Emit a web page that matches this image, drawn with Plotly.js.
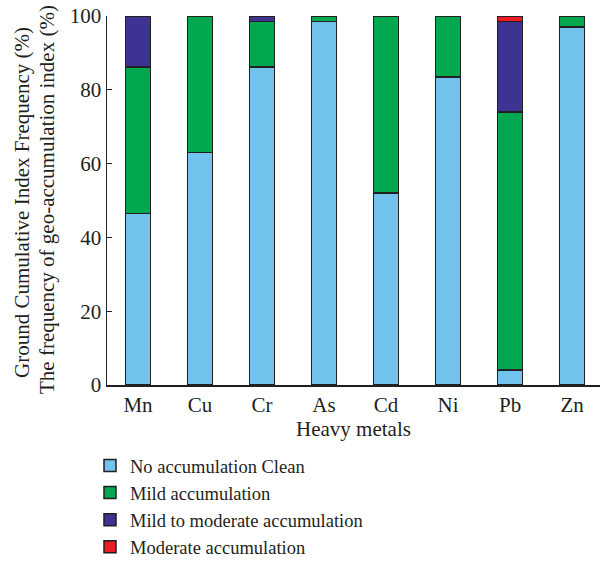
<!DOCTYPE html>
<html><head><meta charset="utf-8">
<script src="https://cdn.plot.ly/plotly-3.0.1.min.js"></script>
<style>html,body{margin:0;padding:0;background:#fff;}</style>
</head><body>
<div id="chart" style="width:600px;height:562px;"></div>
<script>
const metals = ["Mn","Cu","Cr","As","Cd","Ni","Pb","Zn"];
const noAccumulation = [46.5, 63, 86.2, 98.5, 52, 83.5, 4, 97];
const mildAccumulation = [39.7, 37, 12.3, 1.5, 48, 16.5, 70, 3];
const mildToModerate = [13.8, null, 1.5, null, null, null, 24.5, null];
const moderate = [null, null, null, null, null, null, 1.5, null];
const seriesNames = ["No accumulation Clean","Mild accumulation","Mild to moderate accumulation","Moderate accumulation"];
const colors = ["#72C2EE","#00A84F","#3C3393","#ED1C24"];
const values = [noAccumulation, mildAccumulation, mildToModerate, moderate];
const yTitleLines = ["Ground Cumulative Index Frequency (%)","The frequency of geo-accumulation index (%)"];

const font = "Liberation Serif, Times New Roman, serif";
const ink = "#231f20";
const traces = values.map((v,i)=>({
  type:"bar", x:metals, y:v, name:seriesNames[i], width:0.4,
  marker:{color:colors[i], line:{color:ink, width:1.5}}
}));
const layout = {
  width:600, height:562,
  margin:{l:107, r:0, t:16, b:177, autoexpand:false},
  barmode:"stack",
  paper_bgcolor:"#fff", plot_bgcolor:"#fff",
  font:{family:font, size:21, color:ink},
  showlegend:true,
  legend:{orientation:"v", xref:"container", yref:"container", x:90/600, xanchor:"left", y:1-447/562, yanchor:"top",
    traceorder:"normal", font:{family:font, size:18.5, color:ink}, itemwidth:30},
  xaxis:{range:[-0.5,7.45], showline:true, linecolor:ink, linewidth:1.5,
    ticks:"", showgrid:false, zeroline:false,
    tickfont:{family:font, size:21, color:ink},
    title:{text:"Heavy metals", standoff:0, font:{family:font, size:21, color:ink}}},
  yaxis:{range:[0,100], showline:true, linecolor:ink, linewidth:1.5,
    ticks:"inside", ticklen:5, tickcolor:ink, tickvals:[0,20,40,60,80,100],
    showgrid:false, zeroline:false, tickfont:{family:font, size:21, color:ink}},
  annotations:[
    {text:yTitleLines[0], textangle:-90, xref:"paper", yref:"paper", x:-107/493+22/493, y:(385-203)/369,
     xanchor:"center", yanchor:"middle", showarrow:false, font:{family:font, size:21, color:ink}},
    {text:yTitleLines[1], textangle:-90, xref:"paper", yref:"paper", x:-107/493+47/493, y:(385-200)/369,
     xanchor:"center", yanchor:"middle", showarrow:false, font:{family:font, size:21, color:ink}}
  ]
};
Plotly.newPlot("chart", traces, layout, {displayModeBar:false, staticPlot:true});
</script>
</body></html>
